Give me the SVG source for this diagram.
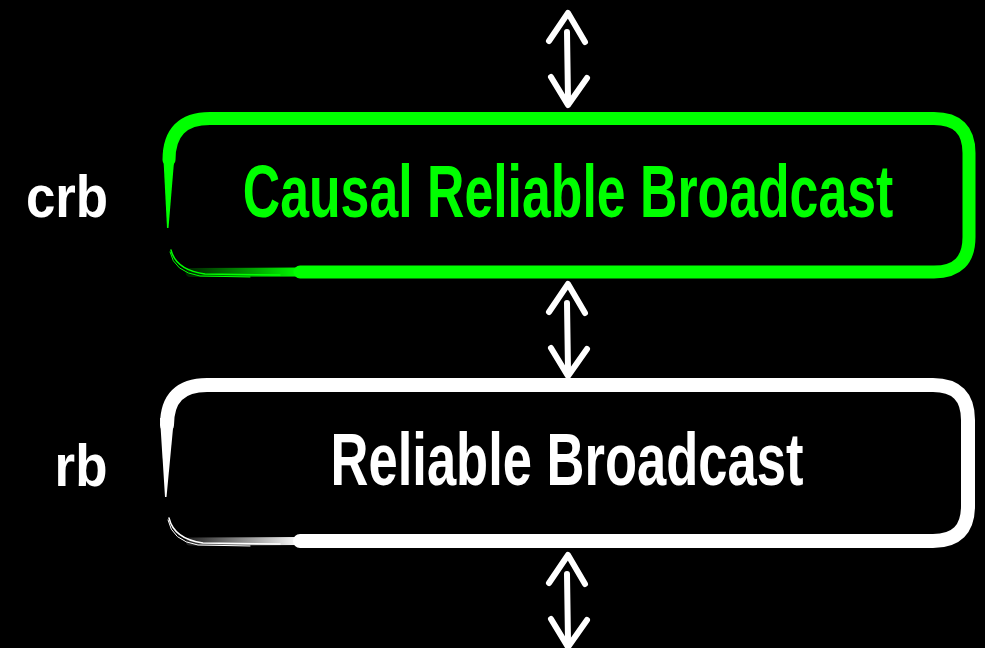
<svg xmlns="http://www.w3.org/2000/svg" width="985" height="648" viewBox="0 0 985 648">
  <style>
    .lbl { font-family: "Liberation Sans", Arial, sans-serif; font-weight: bold; }
    .arrow { fill: none; stroke: #ffffff; stroke-width: 6; stroke-linecap: round; stroke-linejoin: round; }
    .edge { fill: none; stroke-linecap: round; stroke-linejoin: round; }
  </style>
  <defs>
    <linearGradient id="fadeGreen" x1="0" y1="0" x2="1" y2="0">
      <stop offset="0" stop-color="#00ff00" stop-opacity="0.15"/>
      <stop offset="1" stop-color="#00ff00" stop-opacity="1"/>
    </linearGradient>
    <linearGradient id="fadeWhite" x1="0" y1="0" x2="1" y2="0">
      <stop offset="0" stop-color="#ffffff" stop-opacity="0.15"/>
      <stop offset="1" stop-color="#ffffff" stop-opacity="1"/>
    </linearGradient>
    <!-- double-headed vertical arrow, 94px tall, origin at upper tip -->
    <g id="dblArrow">
      <path class="arrow" d="M-19,29 L0,1 L17,30"/>
      <path class="arrow" d="M-1,20 L0,87" stroke-width="5"/>
      <path class="arrow" d="M-17,65 L0,93 L19,66"/>
    </g>
  </defs>

  <rect x="0" y="0" width="985" height="648" fill="#000000"/>

  <!-- connectors -->
  <g id="connectors">
    <use href="#dblArrow" x="568" y="12"/>
    <use href="#dblArrow" x="568" y="283"/>
    <use href="#dblArrow" x="568" y="554"/>
  </g>

  <!-- causal reliable broadcast layer -->
  <g id="crb">
    <path class="edge" stroke="#00ff00" stroke-width="13"
          d="M169,160 Q169,118.5 210,118.5 L934,118.5 Q969,118.5 969,153 L969,237 Q969,272 934,272 L300,272"/>
    <path class="edge" stroke="url(#fadeGreen)" stroke-width="9" d="M190,272.5 L300,272"/>
    <path class="edge" stroke="#00ff00" stroke-width="1.5" d="M171,250 Q176,270 205,274 L280,275"/>
    <path class="edge" stroke="#00ff00" stroke-width="1" d="M170,252 Q174,272 200,276 L250,277"/>
    <polygon points="163,150 175,150 168.5,228 167,228" fill="#00ff00"/>
    <text class="lbl" transform="translate(568,217) scale(0.70,1)" font-size="74" fill="#00ff00" text-anchor="middle">Causal Reliable Broadcast</text>
    <text class="lbl" transform="translate(67,217) scale(0.88,1)" font-size="60" fill="#ffffff" text-anchor="middle">crb</text>
  </g>

  <!-- reliable broadcast layer -->
  <g id="rb">
    <path class="edge" stroke="#ffffff" stroke-width="14"
          d="M167,425 Q167,385 207,385 L933,385 Q968,385 968,420 L968,506 Q968,541 933,541 L300,541"/>
    <path class="edge" stroke="url(#fadeWhite)" stroke-width="8" d="M190,541.5 L300,541"/>
    <path class="edge" stroke="#ffffff" stroke-width="1.5" d="M169,518 Q174,539 203,543 L280,544"/>
    <path class="edge" stroke="#ffffff" stroke-width="1" d="M168,520 Q172,541 198,545 L250,546"/>
    <polygon points="160,418 174,418 166.5,497 165,497" fill="#ffffff"/>
    <text class="lbl" transform="translate(567,485) scale(0.71,1)" font-size="74" fill="#ffffff" text-anchor="middle">Reliable Broadcast</text>
    <text class="lbl" transform="translate(81,486) scale(0.88,1)" font-size="60" fill="#ffffff" text-anchor="middle">rb</text>
  </g>
</svg>
